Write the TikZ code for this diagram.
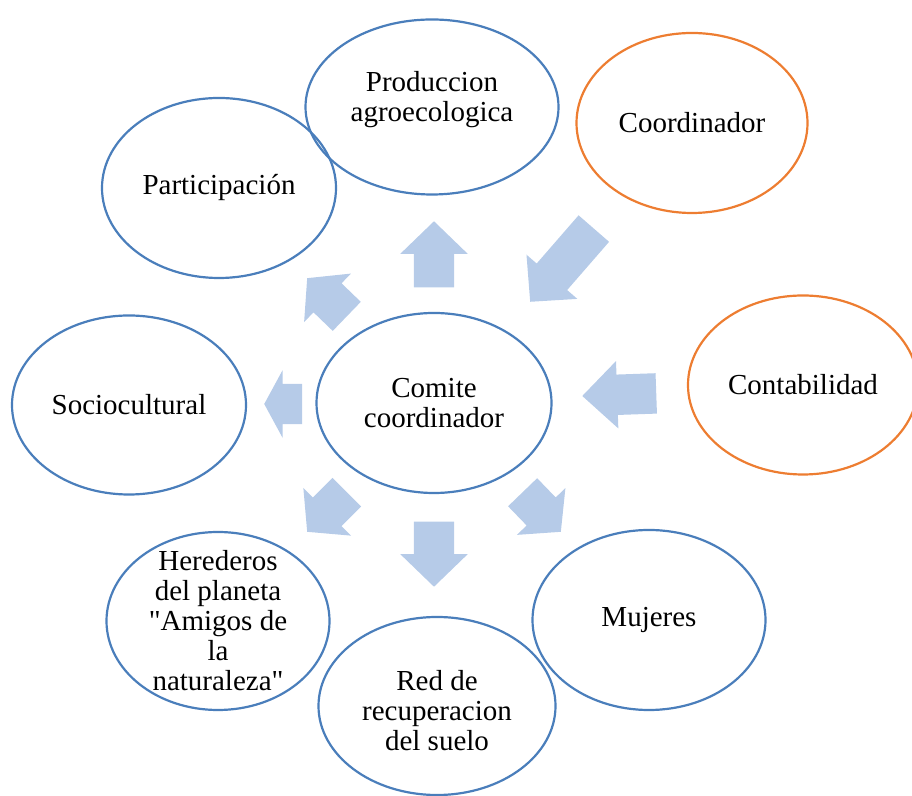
\documentclass[tikz,border=0pt]{standalone}
\usepackage{fontspec}
\setmainfont{Liberation Serif}
\usetikzlibrary{shapes.geometric,shapes.arrows}

\definecolor{ringblue}{RGB}{74,126,187}
\definecolor{ringorange}{RGB}{237,125,49}
\definecolor{arrowblue}{RGB}{182,203,232}

\begin{document}
\begin{tikzpicture}[x=1bp,y=1bp,
		blob/.style={draw=ringblue, line width=2.2bp, ellipse, inner sep=0pt},
		orangeblob/.style={blob, draw=ringorange},
		every label/.style={align=center, font=\fontsize{29bp}{30bp}\selectfont},
		fat/.style={single arrow, fill=arrowblue, draw=none, inner xsep=0pt, inner ysep=20bp,
			single arrow head extend=13.5bp, anchor=tip}]
		
				\useasboundingbox (0,0) rectangle (912,796);
		
				\node [blob, minimum width=235bp, minimum height=180bp, label=center:{Comite\\coordinador}] (1) at (434,393) {};
				\node [blob, minimum width=253bp, minimum height=175bp, label={[yshift=7bp]center:{Produccion\\agroecologica}}] (2) at (432,689) {};
				\node [orangeblob, minimum width=231bp, minimum height=180bp, label=center:Coordinador] (3) at (692,673) {};
				\node [blob, minimum width=234bp, minimum height=180bp, label=center:Participación] (4) at (219,608) {};
				\node [blob, minimum width=234bp, minimum height=179bp, label=center:Sociocultural] (5) at (129,391) {};
				\node [orangeblob, minimum width=230bp, minimum height=179bp, label=center:Contabilidad] (6) at (803,411) {};
				\node [blob, minimum width=223bp, minimum height=178bp, label=center:{Herederos\\del planeta\\\textquotedbl Amigos de\\la\\naturaleza\textquotedbl}] (7) at (218,175) {};
				\node [blob, minimum width=233bp, minimum height=180bp, label=center:Mujeres] (8) at (649,176) {};
				\node [blob, minimum width=237bp, minimum height=178bp, label={[yshift=-5bp]center:{Red de\\recuperacion\\del suelo}}] (9) at (437,90) {};
			
				\node [fat, minimum height=66bp, single arrow tip angle=92, rotate=90] (a1) at (434,575) {};
				\node [fat, minimum height=65bp, single arrow tip angle=92, rotate=-90] (a2) at (434,209) {};
				\node [fat, minimum height=38bp, single arrow tip angle=123, rotate=180] (a3) at (264,392) {};
				\node [fat, minimum height=74bp, single arrow tip angle=88, rotate=182] (a4) at (582,400) {};
				\node [fat, minimum height=55bp, single arrow tip angle=100, rotate=136] (a5) at (307,518) {};
				\node [fat, minimum height=97bp, single arrow tip angle=91, rotate=229] (a6) at (530,494) {};
				\node [fat, minimum height=56bp, single arrow tip angle=100, rotate=225] (a7) at (307,264) {};
				\node [fat, minimum height=55bp, single arrow tip angle=100, rotate=-46] (a8) at (561,264) {};
		
\end{tikzpicture}
\end{document}
